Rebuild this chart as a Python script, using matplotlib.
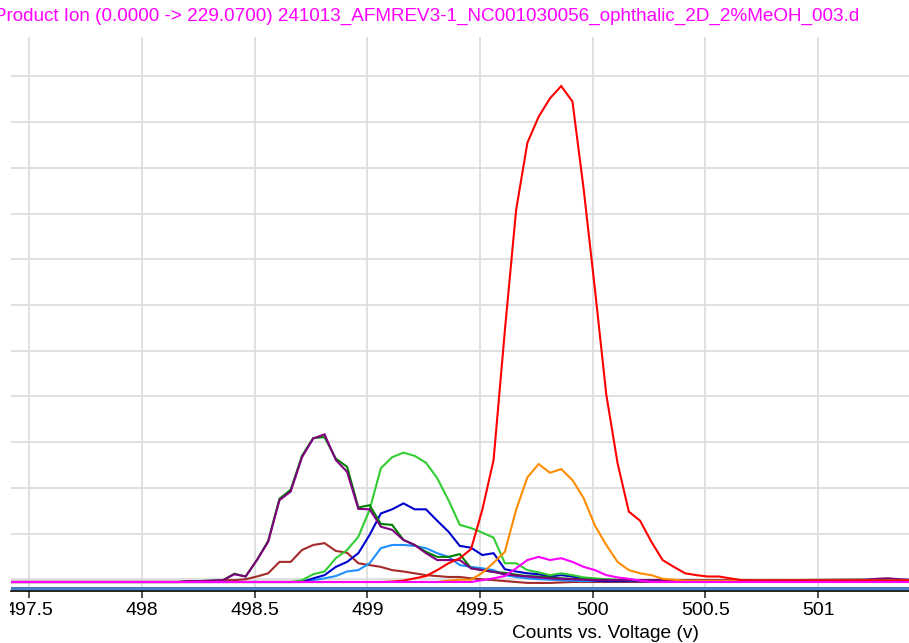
import matplotlib
matplotlib.use("Agg")
import matplotlib.pyplot as plt
from matplotlib.transforms import Bbox

plt.rcParams["font.family"] = ["Liberation Sans", "DejaVu Sans"]

TITLE = "Product Ion (0.0000 -> 229.0700) 241013_AFMREV3-1_NC001030056_ophthalic_2D_2%MeOH_003.d"
XLABEL = "Counts vs. Voltage (v)"

XTICKS = [497.5, 498.0, 498.5, 499.0, 499.5, 500.0, 500.5, 501.0]
XTICK_LABELS = ["497.5", "498", "498.5", "499", "499.5", "500", "500.5", "501"]

VOLTAGE = [
    497.41,
    498.16, 498.21, 498.26, 498.31, 498.36, 498.41, 498.46, 498.51, 498.56, 498.61,
    498.66, 498.71, 498.76, 498.81, 498.86, 498.91, 498.96, 499.01, 499.06, 499.11,
    499.16, 499.21, 499.26, 499.31, 499.36, 499.41, 499.46, 499.51, 499.56, 499.61,
    499.66, 499.71, 499.76, 499.81, 499.86, 499.91, 499.96, 500.01, 500.06, 500.11,
    500.16, 500.21, 500.26, 500.31, 500.36, 500.41, 500.46, 500.51, 500.56, 500.61,
    500.66, 500.71, 500.76, 500.81,
    501.21, 501.26, 501.31, 501.36, 501.41,
]

BROWN = [
    0.0,
    0.0, 0.0, 0.0, 0.0, 0.04, 0.04, 0.06, 0.12, 0.19, 0.44,
    0.44, 0.70, 0.81, 0.85, 0.68, 0.64, 0.41, 0.37, 0.33, 0.26,
    0.23, 0.19, 0.15, 0.13, 0.11, 0.11, 0.08, 0.06, 0.04, 0.02,
    0.0, -0.02, -0.02, -0.02, -0.01, 0.0, 0.0, 0.0, 0.0, 0.0,
    0.0, 0.0, 0.0, 0.0, 0.0, 0.0, 0.0, 0.0, 0.0, 0.0,
    0.0, 0.0, 0.0, 0.0,
    0.0, 0.0, 0.0, 0.0, 0.0,
]
LIGHT_BLUE = [
    0.0,
    0.0, 0.0, 0.0, 0.0, 0.0, 0.0, 0.0, 0.0, 0.0, 0.0,
    0.0, 0.0, 0.04, 0.08, 0.13, 0.23, 0.26, 0.41, 0.74, 0.81,
    0.81, 0.79, 0.74, 0.63, 0.55, 0.37, 0.33, 0.30, 0.26, 0.15,
    0.11, 0.08, 0.06, 0.05, 0.04, 0.03, 0.02, 0.02, 0.02, 0.02,
    0.02, 0.02, 0.02, 0.02, 0.02, 0.02, 0.02, 0.02, 0.02, 0.02,
    0.02, 0.02, 0.02, 0.02,
    0.02, 0.02, 0.02, 0.02, 0.02,
]
BLUE = [
    0.0,
    0.0, 0.0, 0.0, 0.0, 0.0, 0.0, 0.0, 0.0, 0.0, 0.0,
    0.0, 0.0, 0.08, 0.15, 0.33, 0.44, 0.63, 1.03, 1.50, 1.59,
    1.72, 1.59, 1.59, 1.34, 1.10, 0.79, 0.75, 0.59, 0.63, 0.28,
    0.23, 0.19, 0.17, 0.12, 0.15, 0.12, 0.06, 0.03, 0.02, 0.02,
    0.02, 0.02, 0.02, 0.02, 0.02, 0.02, 0.02, 0.02, 0.02, 0.02,
    0.02, 0.02, 0.02, 0.02,
    0.02, 0.02, 0.02, 0.02, 0.02,
]
LIME = [
    0.0,
    0.0, 0.0, 0.0, 0.0, 0.0, 0.0, 0.0, 0.0, 0.0, 0.0,
    0.0, 0.04, 0.17, 0.23, 0.52, 0.70, 0.99, 1.58, 2.49, 2.73,
    2.83, 2.76, 2.61, 2.27, 1.79, 1.25, 1.18, 1.08, 0.97, 0.41,
    0.41, 0.26, 0.21, 0.15, 0.19, 0.15, 0.10, 0.08, 0.06, 0.05,
    0.04, 0.04, 0.04, 0.04, 0.04, 0.04, 0.04, 0.04, 0.04, 0.04,
    0.04, 0.04, 0.04, 0.04,
    0.03, 0.03, 0.03, 0.03, 0.03,
]
GREEN = [
    0.0,
    0.0, 0.02, 0.02, 0.03, 0.04, 0.18, 0.12, 0.48, 0.90, 1.82,
    2.02, 2.76, 3.15, 3.17, 2.70, 2.52, 1.63, 1.68, 1.27, 1.25,
    0.92, 0.81, 0.66, 0.55, 0.55, 0.61, 0.30, 0.26, 0.22, 0.20,
    0.16, 0.13, 0.12, 0.10, 0.08, 0.07, 0.06, 0.05, 0.05, 0.04,
    0.04, 0.04, 0.04, 0.04, 0.04, 0.04, 0.04, 0.04, 0.04, 0.04,
    0.04, 0.04, 0.04, 0.04,
    0.05, 0.06, 0.07, 0.05, 0.04,
]
PURPLE = [
    0.0,
    0.0, 0.02, 0.02, 0.03, 0.04, 0.17, 0.12, 0.48, 0.88, 1.79,
    1.98, 2.73, 3.14, 3.23, 2.67, 2.41, 1.60, 1.59, 1.21, 1.14,
    0.92, 0.81, 0.63, 0.48, 0.48, 0.48, 0.30, 0.26, 0.22, 0.17,
    0.14, 0.12, 0.10, 0.08, 0.07, 0.06, 0.05, 0.04, 0.04, 0.04,
    0.04, 0.04, 0.04, 0.04, 0.04, 0.04, 0.04, 0.04, 0.04, 0.04,
    0.04, 0.04, 0.04, 0.04,
    0.05, 0.07, 0.08, 0.06, 0.05,
]
ORANGE = [
    0.0,
    0.0, 0.0, 0.0, 0.0, 0.0, 0.0, 0.0, 0.0, 0.0, 0.0,
    0.0, 0.0, 0.0, 0.0, 0.0, 0.0, 0.0, 0.0, 0.0, 0.0,
    0.0, 0.0, 0.0, 0.0, 0.03, 0.05, 0.05, 0.20, 0.42, 0.66,
    1.58, 2.29, 2.58, 2.39, 2.47, 2.23, 1.83, 1.23, 0.81, 0.44,
    0.26, 0.19, 0.15, 0.07, 0.05, 0.03, 0.03, 0.03, 0.03, 0.03,
    0.03, 0.03, 0.03, 0.03,
    0.03, 0.03, 0.03, 0.03, 0.03,
]
RED = [
    0.0,
    0.0, 0.0, 0.0, 0.0, 0.0, 0.0, 0.0, 0.0, 0.0, 0.0,
    0.0, 0.0, 0.0, 0.0, 0.0, 0.0, 0.0, 0.0, 0.0, 0.01,
    0.03, 0.08, 0.13, 0.26, 0.41, 0.52, 0.72, 1.58, 2.67, 5.50,
    8.14, 9.61, 10.18, 10.58, 10.85, 10.51, 8.58, 6.39, 4.10, 2.60,
    1.54, 1.34, 0.88, 0.48, 0.33, 0.19, 0.15, 0.12, 0.12, 0.08,
    0.04, 0.03, 0.03, 0.03,
    0.03, 0.03, 0.03, 0.03, 0.03,
]
MAGENTA = [
    0.0,
    0.0, 0.0, 0.0, 0.0, 0.0, 0.0, 0.0, 0.0, 0.0, 0.0,
    0.0, 0.0, 0.0, 0.0, 0.0, 0.0, 0.0, 0.0, 0.0, 0.0,
    0.0, 0.0, 0.0, 0.0, 0.0, 0.0, 0.0, 0.04, 0.08, 0.13,
    0.30, 0.48, 0.55, 0.48, 0.52, 0.44, 0.33, 0.26, 0.15, 0.10,
    0.07, 0.03, 0.0, 0.0, 0.0, 0.0, 0.0, 0.0, 0.0, 0.0,
    0.0, 0.0, 0.0, 0.0,
    0.0, 0.0, 0.0, 0.0, 0.0,
]

# draw order: last one ends up on top
TRACES = [
    (BROWN, "#a52a2a"),
    (LIGHT_BLUE, "#1e90ff"),
    (BLUE, "#0000cd"),
    (LIME, "#32cd32"),
    (GREEN, "#008000"),
    (PURPLE, "#800080"),
    (ORANGE, "#ff8c00"),
    (RED, "#ff0000"),
    (MAGENTA, "#ff00ff"),
]

W, H = 909, 643
fig = plt.figure(figsize=(W / 100, H / 100), dpi=100)
ax = fig.add_axes([11 / W, (H - 591) / H, (W - 11) / W, (591 - 36.7) / H])

for values, color in TRACES:
    ax.plot(VOLTAGE, values, color=color, lw=1.5, solid_joinstyle="miter", zorder=3)

# flat reference lines sitting under the baseline
ax.axhline(-0.125, color="#2a5aa8", lw=1.2, zorder=2)
ax.axhline(-0.16, color="#4a80d0", lw=1.6, zorder=2)

ax.set_xlim(497.419, 501.403)
ax.set_ylim(-0.197, 11.93)
ax.set_xticks(XTICKS)
ax.set_xticklabels(XTICK_LABELS)
ax.set_yticks([k + 0.06 for k in range(12)])
ax.tick_params(axis="y", length=0, labelleft=False)
ax.tick_params(axis="x", length=5, width=1.2, color="#333333", pad=3,
               labelsize=14, labelcolor="black")
ax.grid(True, color="#dddddd", lw=1.3, zorder=0)
ax.set_axisbelow(True)

for side in ("left", "right", "top"):
    ax.spines[side].set_visible(False)
ax.spines["bottom"].set_color("black")
ax.spines["bottom"].set_linewidth(1.2)

# first tick label is cut by the plot's left edge in the reference
first = ax.get_xticklabels()[0]
first.set_clip_box(Bbox.from_extents(10, 0, W, H))
first.set_clip_on(True)

# the reference clips the first letter of the title at the left edge
fig.text(-6 / W, 1 - 16 / H, TITLE, color="#ff00ff", fontsize=13.6,
         ha="left", va="center")
fig.text(606 / W, 1 - 633 / H, XLABEL, color="black", fontsize=13.8,
         ha="center", va="center")

fig.savefig("out.png", dpi=100)
